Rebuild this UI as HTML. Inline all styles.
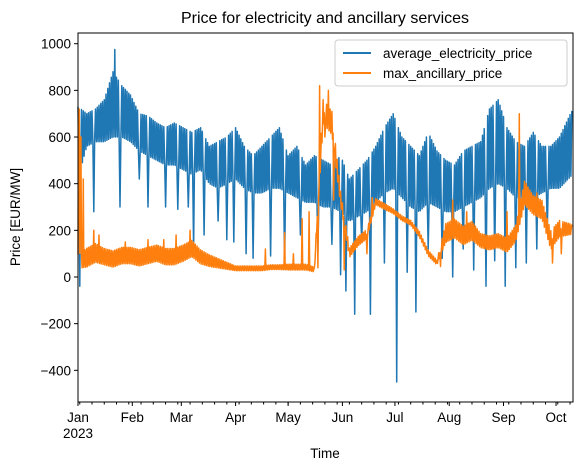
<!DOCTYPE html>
<html><head><meta charset="utf-8"><style>
body{margin:0;background:#fff;}
svg{display:block;font-family:"Liberation Sans","DejaVu Sans",sans-serif;}
</style></head><body>
<svg id="chart" width="583" height="471">
<text x="325" y="23" font-size="16" text-anchor="middle">Price for electricity and ancillary services</text>
<g id="plot"></g>
<g id="axes"></g>
<rect x="78" y="33" width="495" height="369" fill="none" stroke="#000" stroke-width="1"/>
<g>
<rect x="335" y="40" width="232" height="46" rx="3" fill="#fff" fill-opacity="0.8" stroke="#ccc"/>
<line x1="343" y1="53" x2="371" y2="53" stroke="#1f77b4" stroke-width="2"/>
<text x="383" y="58" font-size="13.5">average_electricity_price</text>
<line x1="343" y1="73" x2="371" y2="73" stroke="#ff7f0e" stroke-width="2"/>
<text x="383" y="78" font-size="13.5">max_ancillary_price</text>
</g>
<text x="325" y="458" font-size="13.5" text-anchor="middle">Time</text>
<text transform="translate(20,217) rotate(-90)" font-size="13.5" text-anchor="middle">Price [EUR/MW]</text>
</svg>
<script>
const sampleDays=[0,5,10,15,20,25,30,35,40,45,50,55,60,65,70,75,80,85,90,95,100,105,110,115,120,125,130,135,140,145,150,155,160,165,170,175,180,185,190,195,200,205,210,215,220,225,230,235,240,245,250,255,260,265,270,275,280];
const avgHigh=[730,700,720,760,880,820,780,700,690,660,640,660,640,620,640,560,580,600,640,560,520,560,600,640,520,560,480,520,500,480,520,420,460,500,560,640,700,600,560,520,620,540,500,480,540,560,580,720,760,640,580,560,620,560,560,600,680];
const avgLow=[420,560,580,580,600,600,580,540,520,500,480,480,460,440,460,400,380,400,420,380,360,360,380,380,360,340,320,320,300,300,280,240,260,280,320,360,380,340,300,280,320,300,280,280,300,320,340,380,400,380,340,340,340,360,380,380,420];
const dipDays=[1,9,21,24,35,40,50,57,63,66,72,80,85,89,96,100,110,118,127,137,145,150,153,158,162,167,175,182,188,193,200,208,214,220,226,233,238,244,250,256,262,268];
const dipValues=[-40,280,975,300,420,300,300,290,300,120,180,240,160,150,100,80,90,40,180,110,140,10,-60,-160,150,-160,60,-450,20,-150,120,80,0,120,30,-40,70,-40,40,60,120,200];
const ancLevel=[60,75,95,80,70,85,85,75,85,95,80,80,95,115,80,65,55,45,35,35,35,35,40,40,40,40,40,30,700,650,330,100,150,180,320,300,280,250,230,180,100,60,180,200,170,190,150,140,150,130,180,350,300,280,150,200,200];
const ancNoise=[60,80,80,70,70,70,70,70,70,70,70,70,70,70,60,50,40,30,20,20,20,20,20,20,25,25,25,20,100,100,60,40,40,40,25,25,20,20,20,25,25,20,80,80,80,80,60,60,60,60,70,100,80,80,80,70,50];
const ancSpikeDays=[0.5,1.5,3,9,12,27,40,49,56,64,107,118,123,128,132,137,138,141,143,146,152,165,168,207,214,222,245,252,256,262,271,276];
const ancSpikeValues=[720,600,420,200,180,150,160,160,180,200,120,190,100,250,280,40,820,600,800,330,30,100,340,45,330,280,280,700,400,360,60,100];
const yTicks=[-400,-200,0,200,400,600,800,1000];
const monthDays=[0,31,59,90,120,151,181,212,243,273];
const monthLabels=["Jan","Feb","Mar","Apr","May","Jun","Jul","Aug","Sep","Oct"];
const NS="http://www.w3.org/2000/svg";
const xS=d=>78+d*1.751;
const yS=v=>277-v*0.2333;
function interp(arr,d){
  let i=Math.min(Math.floor(d/5),sampleDays.length-2);
  const t=(d-sampleDays[i])/(sampleDays[i+1]-sampleDays[i]);
  return arr[i]*(1-t)+arr[i+1]*t;
}
function addLine(pts,color,name){
  const p=document.createElementNS(NS,"polyline");
  p.setAttribute("points",pts.join(" "));
  p.setAttribute("fill","none");p.setAttribute("stroke",color);
  p.setAttribute("stroke-width","1.5");p.setAttribute("stroke-linejoin","round");
  
  
  document.getElementById("plot").appendChild(p);
}
(function(){
  const pts=[];
  for(let k=0;k<=282*2;k++){
    const d=k/2;
    let v=(k%2===0)?interp(avgHigh,d):interp(avgLow,d);
    const j=dipDays.findIndex(x=>Math.abs(x-d)<0.26);if(j>=0)v=dipValues[j];
    pts.push(xS(d).toFixed(1)+","+yS(v).toFixed(1));
  }
  addLine(pts,"#1f77b4","average-electricity-price-line");
})();
(function(){
  const pts=[];
  for(let k=0;k<=282*3;k++){
    const d=k/3;
    const lv=interp(ancLevel,d), nz=interp(ancNoise,d);
    let v=lv+(k%3===0?nz*0.6:(k%3===1?-nz*0.4:nz*0.1));
    const j=ancSpikeDays.findIndex(x=>Math.abs(x-d)<0.17);if(j>=0)v=ancSpikeValues[j];
    pts.push(xS(d).toFixed(1)+","+yS(v).toFixed(1));
  }
  addLine(pts,"#ff7f0e","max-ancillary-price-line");
})();
const ax=document.getElementById("axes");
function el(tag,attrs,txt){const e=document.createElementNS(NS,tag);for(const k in attrs)e.setAttribute(k,attrs[k]);if(txt!==undefined)e.textContent=txt;ax.appendChild(e);return e;}
yTicks.forEach(v=>{
  const y=yS(v);
  el("line",{x1:74,x2:78,y1:y,y2:y,stroke:"#000"});
  const t=el("text",{x:71,y:y+5,"font-size":"13.5","text-anchor":"end"},v<0?"\u2212"+(-v):String(v));
  
  
});
for(let d=1;d<283;d+=7){el("line",{x1:xS(d),x2:xS(d),y1:402,y2:404.5,stroke:"#000"});}
monthDays.forEach((d,i)=>{
  const x=xS(d);
  el("line",{x1:x,x2:x,y1:402,y2:406,stroke:"#000"});
  const t=el("text",{x:x,y:422,"font-size":"13.5","text-anchor":"middle"},monthLabels[i]);
  
  
});
const yr=el("text",{x:xS(0),y:438,"font-size":"13.5","text-anchor":"middle"},"2023");


</script>
</body></html>
